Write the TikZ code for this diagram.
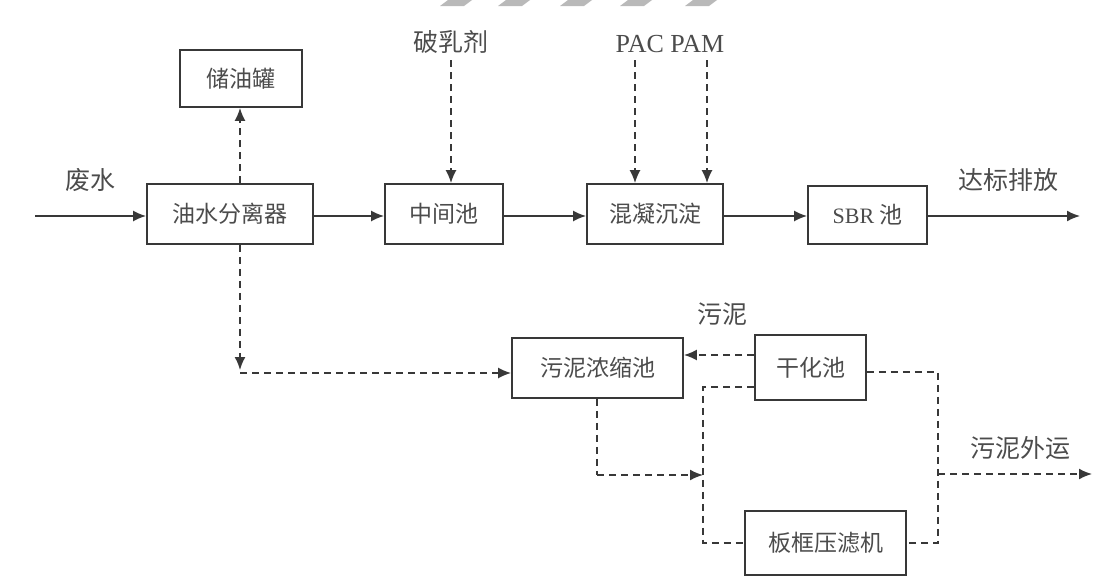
\documentclass[tikz,border=0pt]{standalone}
\usepackage{fontspec}
\setmainfont{Liberation Serif}
\newfontfamily\cjk{Noto Sans CJK SC}
\usetikzlibrary{arrows.meta}
\definecolor{ink}{gray}{0.22}
\definecolor{txt}{gray}{0.30}
\tikzset{
  x=1pt, y=-1pt,
  procbox/.style={draw=ink, line width=1.8pt, minimum height=60pt, inner sep=0pt, font=\cjk\fontsize{23}{25}\selectfont, text=txt},
  lbl/.style={inner sep=0pt, font=\cjk\fontsize{25}{27}\selectfont, text=txt},
  flow/.style={draw=ink, line width=1.7pt, -{Latex[length=13pt,width=11pt]}},
  dflow/.style={flow, dash pattern=on 7pt off 5pt},
  dline/.style={draw=ink, line width=1.7pt, dash pattern=on 7pt off 5pt},
  stripe/.style={fill=gray!55, draw=none}
}
\begin{document}
\begin{tikzpicture}
\useasboundingbox (0,0) rectangle (1113,579);
\fill[white] (0,0) rectangle (1113,579);
% top stripes
\foreach \sx in {440,498,560,620,685}{
  \fill[stripe] (\sx,6) -- (\sx+24,6) -- (\sx+32,0) -- (\sx+8,0) -- cycle;
}
% boxes
\node[procbox, minimum width=122pt, minimum height=57pt] (oil) at (241,78.5) {储油罐};
\node[procbox, minimum width=166pt] (sep) at (230,214) {油水分离器};
\node[procbox, minimum width=118pt] (mid) at (444,214) {中间池};
\node[procbox, minimum width=136pt] (coag) at (655,214) {混凝沉淀};
\node[procbox, minimum width=119pt, minimum height=58pt] (sbr) at (867.5,215) {{\rmfamily\fontsize{22}{24}\selectfont SBR} 池};
\node[procbox, minimum width=171pt] (thick) at (597.5,368) {污泥浓缩池};
\node[procbox, minimum width=111pt, minimum height=65pt] (dry) at (810.5,367.5) {干化池};
\node[procbox, minimum width=161pt, minimum height=64pt] (press) at (825.5,543) {板框压滤机};
% labels
\node[lbl] (lin) at (90,180) {废水};
\node[lbl] (lout) at (1008,180) {达标排放};
\node[lbl] (ldem) at (451,42) {破乳剂};
\node[inner sep=0pt, font=\fontsize{26}{28}\selectfont, text=txt] (lpac) at (670,44) {PAC PAM};
\node[lbl] (lsl) at (722,314) {污泥};
\node[lbl] (lsout) at (1020,448) {污泥外运};
% coordinates
\coordinate (in) at (35,216);
\coordinate (out) at (1080,216);
\coordinate (pacT) at (635,60);
\coordinate (pamT) at (707,60);
\coordinate (demT) at (451,60);
\coordinate (c1) at (240,370);
\coordinate (c1b) at (240,373);
\coordinate (v1) at (703,387);
\coordinate (v2) at (703,543);
\coordinate (t1) at (597,475);
\coordinate (t2) at (703,475);
\coordinate (r1) at (938,372);
\coordinate (r2) at (938,543);
\coordinate (r3) at (938,474);
\coordinate (eout) at (1092,474);
% main flow
\draw[flow] (in) -- (sep.west |- in);
\draw[flow] (sep.east |- in) -- (mid.west |- in);
\draw[flow] (mid.east |- in) -- (coag.west |- in);
\draw[flow] (coag.east |- in) -- (sbr.west |- in);
\draw[flow] (sbr.east |- out) -- (out);
% dosing
\draw[dflow] (demT) -- (demT |- mid.north);
\draw[dflow] (pacT) -- (pacT |- coag.north);
\draw[dflow] (pamT) -- (pamT |- coag.north);
% oil
\draw[dflow] (sep.north -| c1) -- (oil.south -| c1);
% sludge from separator
\draw[dflow] (sep.south -| c1) -- (c1);
\draw[dflow] (c1b) -- (thick.west |- c1b);
% dry bed return
\draw[dflow] (dry.west |- 0,355) -- (thick.east |- 0,355);
\draw[dline] (dry.west |- v1) -- (v1) -- (v2) -- (press.west |- v2);
% thickener to press
\draw[dline] (thick.south -| t1) -- (t1);
\draw[dflow] (t1) -- (t2);
% outputs
\draw[dline] (dry.east |- r1) -- (r1) -- (r2) -- (press.east |- r2);
\draw[dflow] (r3) -- (eout);
\end{tikzpicture}
\end{document}
